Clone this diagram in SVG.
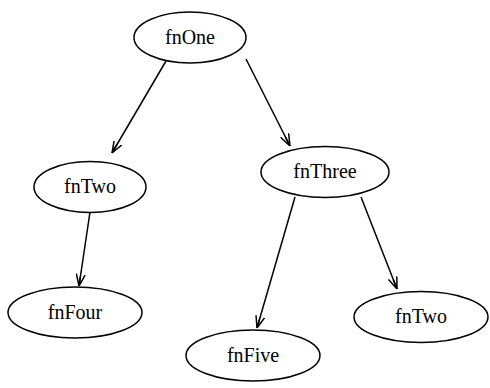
<svg xmlns="http://www.w3.org/2000/svg" width="490" height="388" viewBox="0 0 490 388">
  <style>
    .node ellipse { fill: #ffffff; stroke: #000000; stroke-width: 1.5; }
    .node text { font-family: "Liberation Serif", "Times New Roman", serif; font-size: 20px; fill: #000000; text-anchor: middle; }
    .edge { fill: none; stroke: #000000; stroke-width: 1.5; }
  </style>
  <defs>
    <marker id="vee" viewBox="0 0 12 10" refX="12" refY="5" markerWidth="12" markerHeight="10" markerUnits="userSpaceOnUse" orient="auto">
      <path d="M0,0.5 L12,5 L0,9.5 M12,5 L2,5" fill="none" stroke="#000000" stroke-width="1.5"/>
    </marker>
  </defs>
  <rect width="490" height="388" fill="#ffffff"/>

  <g id="edges">
    <path class="edge" d="M166,61 L112,153" marker-end="url(#vee)"/>
    <path class="edge" d="M246,59 L290,146" marker-end="url(#vee)"/>
    <path class="edge" d="M90,212 L79,286" marker-end="url(#vee)"/>
    <path class="edge" d="M295,197 L257,328" marker-end="url(#vee)"/>
    <path class="edge" d="M361,197 L397,289" marker-end="url(#vee)"/>
  </g>

  <g id="fnOne" class="node">
    <ellipse cx="190" cy="37.5" rx="56" ry="25.5"/>
    <text x="190" y="43.5">fnOne</text>
  </g>
  <g id="fnTwo_left" class="node">
    <ellipse cx="90" cy="187" rx="56" ry="25.5"/>
    <text x="90" y="193">fnTwo</text>
  </g>
  <g id="fnThree" class="node">
    <ellipse cx="325" cy="172" rx="64" ry="25.5"/>
    <text x="325" y="178">fnThree</text>
  </g>
  <g id="fnFour" class="node">
    <ellipse cx="75" cy="312.5" rx="67" ry="25.5"/>
    <text x="75" y="318.5">fnFour</text>
  </g>
  <g id="fnFive" class="node">
    <ellipse cx="253" cy="355.5" rx="67" ry="25.5"/>
    <text x="253" y="361.5">fnFive</text>
  </g>
  <g id="fnTwo_right" class="node">
    <ellipse cx="421" cy="317" rx="67" ry="25.5"/>
    <text x="421" y="323">fnTwo</text>
  </g>
</svg>
